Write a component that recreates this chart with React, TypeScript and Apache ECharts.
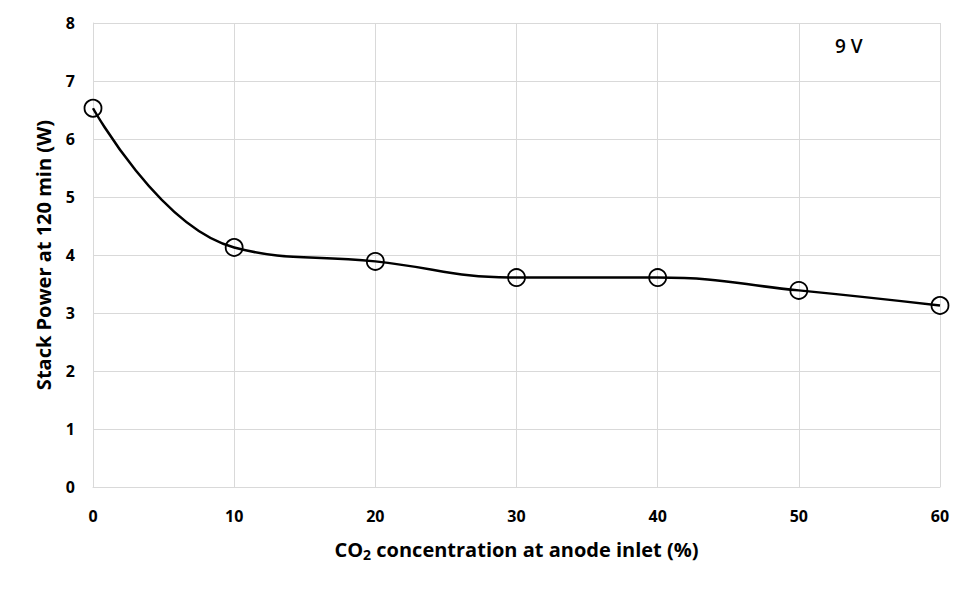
import React, { useEffect, useRef } from "react";
import * as echarts from "echarts";

const co2 = [0, 10, 20, 30, 40, 50, 60];
const power = [6.53, 4.13, 3.89, 3.61, 3.61, 3.39, 3.13];
const xTicks = [0, 10, 20, 30, 40, 50, 60];
const yTicks = [0, 1, 2, 3, 4, 5, 6, 7, 8];
const annotation = "9 V";

export default function App() {
  const ref = useRef<HTMLDivElement>(null);
  useEffect(() => {
    const chart = echarts.init(ref.current!, null, { renderer: "svg" });
    const font = "'Open Sans', 'Liberation Sans', sans-serif";
    chart.setOption({
      animation: false,
      backgroundColor: "#ffffff",
      grid: { left: 85, right: 25, top: 15, bottom: 94 },
      xAxis: {
        type: "value",
        min: xTicks[0],
        max: xTicks[xTicks.length - 1],
        interval: 10,
        name: "{a|CO}{s|2}{a| concentration at anode inlet (%)}",
        nameLocation: "middle",
        nameGap: 50,
        nameTextStyle: {
          rich: {
            a: { fontFamily: font, fontSize: 20, fontWeight: "bold", color: "#000" },
            s: { fontFamily: font, fontSize: 14, fontWeight: "bold", color: "#000", verticalAlign: "bottom", padding: [10, 0, 0, 0] },
          },
        },
        axisLine: { lineStyle: { color: "#d9d9d9", width: 1 } },
        axisTick: { show: false },
        axisLabel: { margin: 21, fontFamily: font, fontSize: 16, fontWeight: "bold", color: "#000" },
        splitLine: { show: true, lineStyle: { color: "#d9d9d9", width: 1 } },
      },
      yAxis: {
        type: "value",
        min: yTicks[0],
        max: yTicks[yTicks.length - 1],
        interval: 1,
        name: "Stack Power at 120 min (W)",
        nameLocation: "middle",
        nameGap: 40,
        nameTextStyle: { fontFamily: font, fontSize: 20, fontWeight: "bold", color: "#000" },
        axisLine: { show: true, lineStyle: { color: "#d9d9d9", width: 1 } },
        axisTick: { show: false },
        axisLabel: { margin: 18, fontFamily: font, fontSize: 16, fontWeight: "bold", color: "#000" },
        splitLine: { show: true, lineStyle: { color: "#d9d9d9", width: 1 } },
      },
      graphic: [
        {
          type: "text",
          left: 827,
          top: 28,
          style: { text: annotation, fontFamily: font, fontSize: 19, fontWeight: 600, fill: "#000" },
        },
      ],
      series: [
        {
          type: "line",
          data: co2.map((x, i) => [x, power[i]]),
          smooth: 0.45,
          symbol: "circle",
          symbolSize: 17,
          lineStyle: { color: "#000", width: 2.5 },
          itemStyle: { color: "rgba(255,255,255,0)", borderColor: "#000", borderWidth: 1.8 },
          z: 3,
        },
      ],
    });
    return () => chart.dispose();
  }, []);
  return <div ref={ref} style={{ width: 957, height: 573 }} />;
}
